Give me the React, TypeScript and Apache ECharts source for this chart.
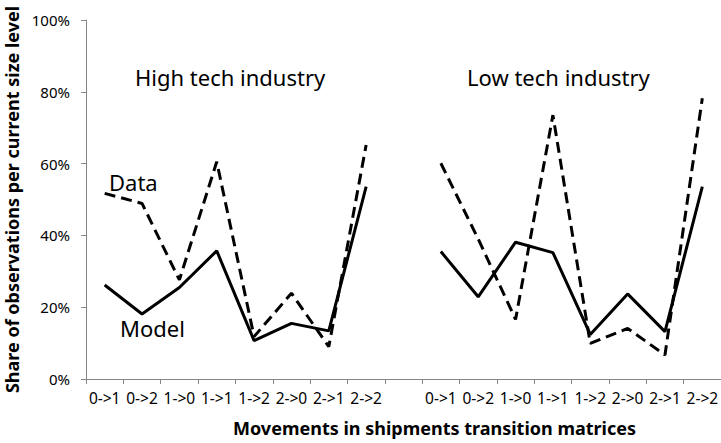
import React, { useEffect, useRef } from "react";
import * as echarts from "echarts";

const categories = [
  "0->1", "0->2", "1->0", "1->1", "1->2", "2->0", "2->1", "2->2",
  "",
  "0->1", "0->2", "1->0", "1->1", "1->2", "2->0", "2->1", "2->2",
];

// High tech (first 8) then gap then Low tech (last 8), in percent
const dataSeries = [
  51.7, 48.9, 27.6, 60.5, 11.8, 23.9, 9.0, 65.2,
  null,
  60.1, 39.0, 16.6, 73.5, 9.9, 14.1, 6.7, 78.2,
];
const modelSeries = [
  26.2, 18.1, 25.5, 35.7, 10.7, 15.5, 13.4, 53.6,
  null,
  35.5, 22.9, 38.1, 35.2, 12.4, 23.7, 13.2, 53.6,
];

const yTicks = { min: 0, max: 100, interval: 20 };

const FONT = "'Noto Sans', 'Open Sans', sans-serif";

export default function App() {
  const ref = useRef<HTMLDivElement>(null);
  useEffect(() => {
    document.body.style.margin = "0";
    const chart = echarts.init(ref.current!, null, { renderer: "svg" });
    chart.setOption({
      animation: false,
      backgroundColor: "#ffffff",
      textStyle: { fontFamily: FONT },
      grid: { left: 86, right: 0, top: 20, bottom: 64, containLabel: false, outerBoundsMode: "none" },
      xAxis: {
        type: "category",
        data: categories,
        boundaryGap: true,
        axisLine: { lineStyle: { color: "#868686", width: 1 } },
        axisTick: { show: true, interval: 0, length: 5, lineStyle: { color: "#868686" } },
        axisLabel: { interval: 0, fontSize: 15.5, color: "#000", margin: 11, fontFamily: FONT },
        splitLine: { show: false },
      },
      yAxis: {
        type: "value",
        min: yTicks.min,
        max: yTicks.max,
        interval: yTicks.interval,
        name: "Share of observations per current size level",
        nameLocation: "middle",
        nameRotate: 90,
        nameGap: 61,
        nameTextStyle: { fontSize: 18, fontWeight: "bold", color: "#000", fontFamily: FONT },
        axisLine: { show: true, lineStyle: { color: "#868686", width: 1 } },
        axisTick: { show: true, length: 5, lineStyle: { color: "#868686" } },
        axisLabel: { formatter: "{value}%", fontSize: 15, color: "#000", margin: 16, fontFamily: FONT },
        splitLine: { show: false },
      },
      series: [
        {
          name: "Data",
          type: "line",
          data: dataSeries,
          connectNulls: false,
          symbol: "none",
          lineStyle: { color: "#000", width: 3, type: [11, 6] },
        },
        {
          name: "Model",
          type: "line",
          data: modelSeries,
          connectNulls: false,
          symbol: "none",
          lineStyle: { color: "#000", width: 3, type: "solid" },
        },
      ],
      graphic: [
        { type: "text", left: 135, top: 66, style: { text: "High tech industry", fontSize: 22, fill: "#000", fontFamily: FONT } },
        { type: "text", left: 467, top: 66, style: { text: "Low tech industry", fontSize: 22, fill: "#000", fontFamily: FONT } },
        { type: "text", left: 109, top: 171, style: { text: "Data", fontSize: 22, fill: "#000", fontFamily: FONT } },
        { type: "text", left: 120, top: 317, style: { text: "Model", fontSize: 22, fill: "#000", fontFamily: FONT } },
        {
          type: "text",
          left: 233,
          top: 419,
          style: { text: "Movements in shipments transition matrices", fontSize: 18, fontWeight: "bold", fill: "#000", fontFamily: FONT },
        },
      ],
    });
    return () => chart.dispose();
  }, []);
  return <div ref={ref} style={{ width: 721, height: 443 }} />;
}
